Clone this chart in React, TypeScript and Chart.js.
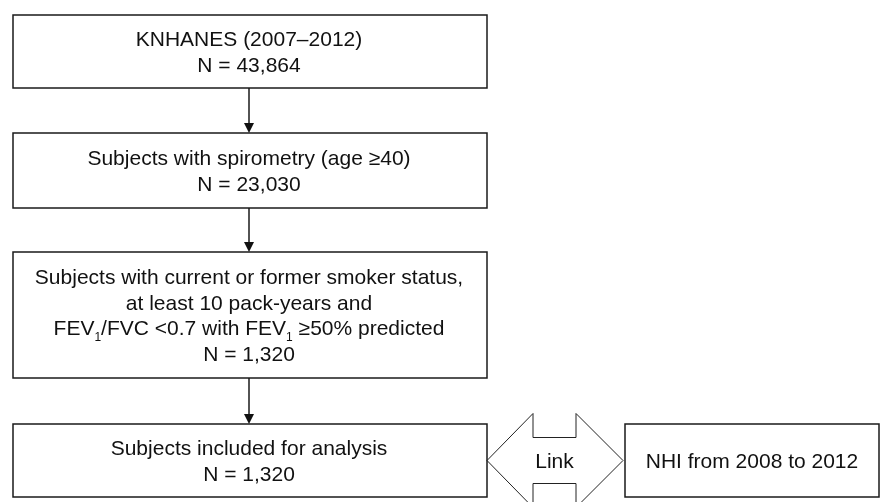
import React, { useEffect, useRef } from "react";
import { Chart, registerables } from "chart.js";

Chart.register(...registerables);

// ---- data ----
const stepLines: string[][] = [
  ["KNHANES (2007–2012)"],
  ["Subjects with spirometry (age ≥40)"],
  [
    "Subjects with current or former smoker status,",
    "at least 10 pack-years and",
    "FEV_1/FVC <0.7 with FEV_1 ≥50% predicted",
  ],
  ["Subjects included for analysis"],
];
const stepCounts: number[] = [43864, 23030, 1320, 1320];
const linkLabel = "Link";
const linkedSource = "NHI from 2008 to 2012";

// ---- layout (data units of the hidden scales) ----
const W = 881;
const H = 502;
const BOX_L = 13;
const BOX_R = 487;
const BOX_CX = 249;
const BOX_TOP = [15, 133, 252, 424];
const BOX_BOT = [88, 208, 378, 497];
const LINE_GAP = 25.5;
const SIDE_L = 625;
const SIDE_R = 879;
const LINK_TIP_L = 487;
const LINK_TIP_R = 623;
const LINK_BASE_L = 533;
const LINK_BASE_R = 576;
const LINK_HEAD_H = 47;
const LINK_SHAFT_H = 23;

const FONT = "'Liberation Sans', Arial, sans-serif";
const FS = 21;
const SUB_FS = 12;

function drawRich(ctx: CanvasRenderingContext2D, text: string, cx: number, cy: number) {
  const parts: { t: string; sub: boolean }[] = [];
  const re = /_(\d)/g;
  let last = 0;
  let m: RegExpExecArray | null;
  while ((m = re.exec(text))) {
    if (m.index > last) parts.push({ t: text.slice(last, m.index), sub: false });
    parts.push({ t: m[1], sub: true });
    last = m.index + m[0].length;
  }
  if (last < text.length) parts.push({ t: text.slice(last), sub: false });
  const widths = parts.map((p) => {
    ctx.font = `${p.sub ? SUB_FS : FS}px ${FONT}`;
    return ctx.measureText(p.t).width;
  });
  const total = widths.reduce((a, b) => a + b, 0);
  let x = cx - total / 2;
  ctx.textAlign = "left";
  ctx.textBaseline = "alphabetic";
  const base = cy + FS * 0.36;
  parts.forEach((p, i) => {
    ctx.font = `${p.sub ? SUB_FS : FS}px ${FONT}`;
    ctx.fillText(p.t, x, p.sub ? base + 6 : base);
    x += widths[i];
  });
}

const flowPlugin = {
  id: "flow",
  afterDraw(chart: any) {
    const ctx: CanvasRenderingContext2D = chart.ctx;
    const xs = chart.scales.x;
    const ys = chart.scales.y;
    const px = (v: number) => xs.getPixelForValue(v);
    const py = (v: number) => ys.getPixelForValue(v);
    ctx.save();
    ctx.fillStyle = "#ffffff";
    ctx.fillRect(0, 0, chart.width, chart.height);

    // boxes
    ctx.strokeStyle = "#1a1a1a";
    ctx.lineWidth = 1.5;
    stepLines.forEach((lines, i) => {
      const l = px(BOX_L), r = px(BOX_R), t = py(BOX_TOP[i]), b = py(BOX_BOT[i]);
      ctx.strokeRect(l, t, r - l, b - t);
      const all = [...lines, "N = " + stepCounts[i].toLocaleString("en-US")];
      const cy = (t + b) / 2;
      ctx.fillStyle = "#111111";
      all.forEach((s, k) => {
        const y = cy + (k - (all.length - 1) / 2) * LINE_GAP;
        drawRich(ctx, s, px(BOX_CX), y);
      });
      // arrow to next
      if (i < stepLines.length - 1) {
        const y0 = py(BOX_BOT[i]);
        const y1 = py(BOX_TOP[i + 1]);
        const x = px(BOX_CX);
        ctx.beginPath();
        ctx.moveTo(x, y0);
        ctx.lineTo(x, y1 - 9);
        ctx.stroke();
        ctx.beginPath();
        ctx.moveTo(x - 5, y1 - 10);
        ctx.lineTo(x + 5, y1 - 10);
        ctx.lineTo(x, y1);
        ctx.closePath();
        ctx.fillStyle = "#111111";
        ctx.fill();
      }
    });

    // side box
    const last = stepLines.length - 1;
    const st = py(BOX_TOP[last]), sb = py(BOX_BOT[last]);
    ctx.strokeRect(px(SIDE_L), st, px(SIDE_R) - px(SIDE_L), sb - st);
    ctx.fillStyle = "#111111";
    drawRich(ctx, linkedSource, (px(SIDE_L) + px(SIDE_R)) / 2, (st + sb) / 2);

    // double arrow
    const cyL = (BOX_TOP[last] + BOX_BOT[last]) / 2;
    ctx.lineWidth = 1;
    ctx.strokeStyle = "#222222";
    ctx.beginPath();
    ctx.moveTo(px(LINK_TIP_L), py(cyL));
    ctx.lineTo(px(LINK_BASE_L), py(cyL - LINK_HEAD_H));
    ctx.lineTo(px(LINK_BASE_L), py(cyL - LINK_SHAFT_H));
    ctx.lineTo(px(LINK_BASE_R), py(cyL - LINK_SHAFT_H));
    ctx.lineTo(px(LINK_BASE_R), py(cyL - LINK_HEAD_H));
    ctx.lineTo(px(LINK_TIP_R), py(cyL));
    ctx.lineTo(px(LINK_BASE_R), py(cyL + LINK_HEAD_H));
    ctx.lineTo(px(LINK_BASE_R), py(cyL + LINK_SHAFT_H));
    ctx.lineTo(px(LINK_BASE_L), py(cyL + LINK_SHAFT_H));
    ctx.lineTo(px(LINK_BASE_L), py(cyL + LINK_HEAD_H));
    ctx.closePath();
    ctx.stroke();
    ctx.fillStyle = "#111111";
    drawRich(ctx, linkLabel, (px(LINK_BASE_L) + px(LINK_BASE_R)) / 2, py(cyL));
    ctx.restore();
  },
};

export default function App() {
  const ref = useRef<HTMLCanvasElement | null>(null);
  useEffect(() => {
    if (!ref.current) return;
    const chart = new Chart(ref.current, {
      type: "scatter",
      data: { datasets: [{ data: [], pointRadius: 0 }] },
      options: {
        animation: false,
        responsive: false,
        devicePixelRatio: 1,
        layout: { padding: 0 },
        plugins: { legend: { display: false }, tooltip: { enabled: false } },
        scales: {
          x: { type: "linear", min: 0, max: W, display: false },
          y: { type: "linear", min: 0, max: H, reverse: true, display: false },
        },
      },
      plugins: [flowPlugin],
    });
    return () => chart.destroy();
  }, []);
  return (
    <div style={{ position: "fixed", left: 0, top: 0, width: W, height: H, background: "#fff" }}>
      <canvas ref={ref} width={W} height={H} style={{ display: "block" }} />
    </div>
  );
}
